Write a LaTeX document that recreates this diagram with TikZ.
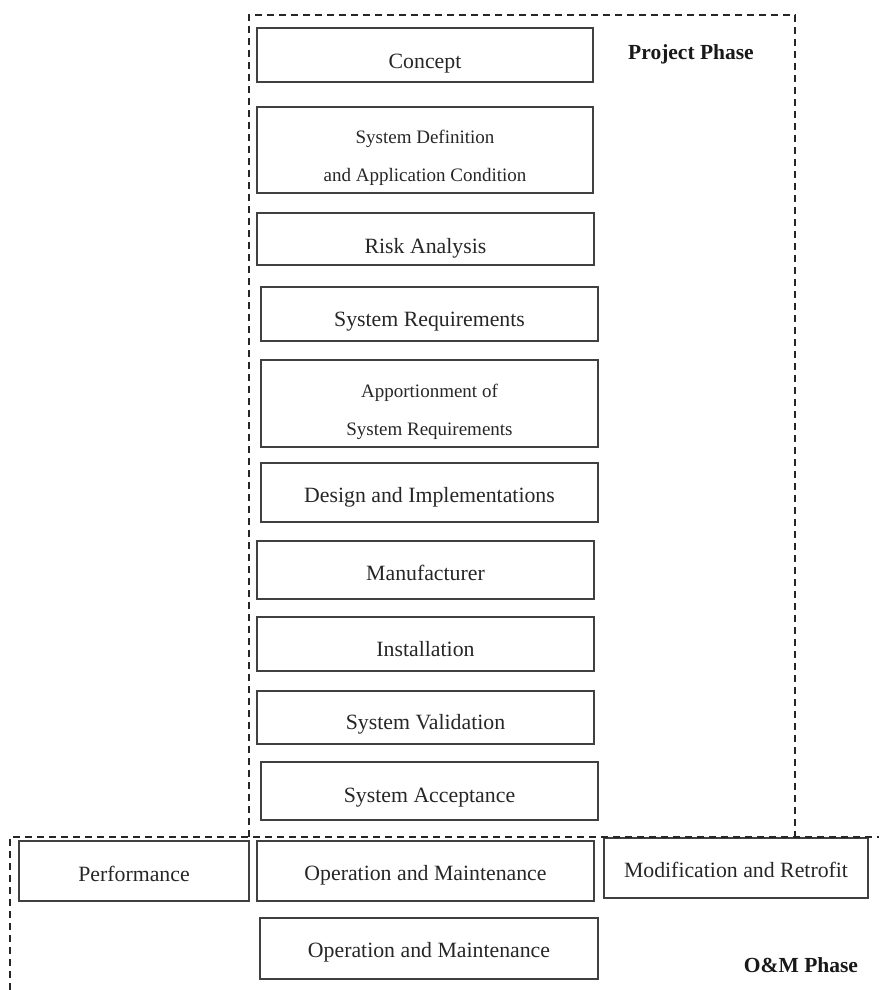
\documentclass[tikz,border=0pt]{standalone}
\usepackage{fontspec}
\setmainfont{Liberation Serif}
\begin{document}
\begin{tikzpicture}[x=1pt,y=-1pt,
  stageframe/.style={draw=black!75, line width=1.4pt, inner sep=0pt, outer sep=0pt},
  stagetext/.style={inner sep=0pt, align=center, text=black!85, font=\fontsize{21.8}{26}\selectfont},
  smalltext/.style={stagetext, font=\fontsize{19}{38}\selectfont},
  phaselabel/.style={font=\bfseries\fontsize{21.5}{25}\selectfont, text=black!90, inner sep=0pt},
  phaseline/.style={draw=black!85, line width=1.4pt, dash pattern=on 7pt off 5pt}]
\useasboundingbox (0,0) rectangle (879,990);
% #1 text style, #2 name, #3 cx, #4 cy, #5 width, #6 height, #7 text shift down, #8 text
\newcommand{\stage}[8]{%
  \node[stageframe, minimum width=#5, minimum height=#6] (#2) at (#3,#4) {};
  \node[#1] (#2-t) at ([yshift=-#7]#2.center) {#8};}
\stage{stagetext}{concept}{425}{55}{336pt}{54pt}{9pt}{Concept}
\stage{smalltext}{sysdef}{425}{150}{336pt}{86pt}{8pt}{System Definition\\and Application Condition}
\stage{stagetext}{risk}{425.5}{239}{337pt}{52pt}{9pt}{Risk Analysis}
\stage{stagetext}{sysreq}{429.5}{314}{337pt}{54pt}{7.5pt}{System Requirements}
\stage{smalltext}{apport}{429.5}{403.5}{337pt}{87pt}{8.5pt}{Apportionment of\\System Requirements}
\stage{stagetext}{design}{429.5}{492.5}{337pt}{59pt}{5pt}{Design and Implementations}
\stage{stagetext}{manuf}{425.5}{570}{337pt}{58pt}{3pt}{Manufacturer}
\stage{stagetext}{install}{425.5}{644}{337pt}{54pt}{5.5pt}{Installation}
\stage{stagetext}{valid}{425.5}{717.5}{337pt}{53pt}{7pt}{System Validation}
\stage{stagetext}{accept}{429.5}{791}{337pt}{58pt}{7pt}{System Acceptance}
\stage{stagetext}{perf}{134}{871}{230pt}{60pt}{3pt}{Performance}
\stage{stagetext}{om1}{425.5}{871}{337pt}{60pt}{4.5pt}{Operation and Maintenance}
\stage{stagetext}{modif}{736}{868}{264pt}{60pt}{2pt}{Modification and Retrofit}
\stage{stagetext}{om2}{429}{948.5}{338pt}{61pt}{4pt}{Operation and Maintenance}
% phase frames
\coordinate (pTL) at (249,15);
\coordinate (pTR) at (795,15);
\coordinate (pBR) at (795,837);
\coordinate (pBL) at (249,837);
\draw[phaseline] (pBL) -- (pTL) -- (pTR) -- (pBR);
\coordinate (oBL) at (10,990);
\coordinate (oTL) at (10,837);
\coordinate (oTR) at (879,837);
\draw[phaseline] (oBL) -- (oTL) -- (oTR);
\node[phaselabel] (projlabel) at (691,54) {Project Phase};
\node[phaselabel] (omlabel) at (801,965) {O\&M Phase};
\end{tikzpicture}
\end{document}
